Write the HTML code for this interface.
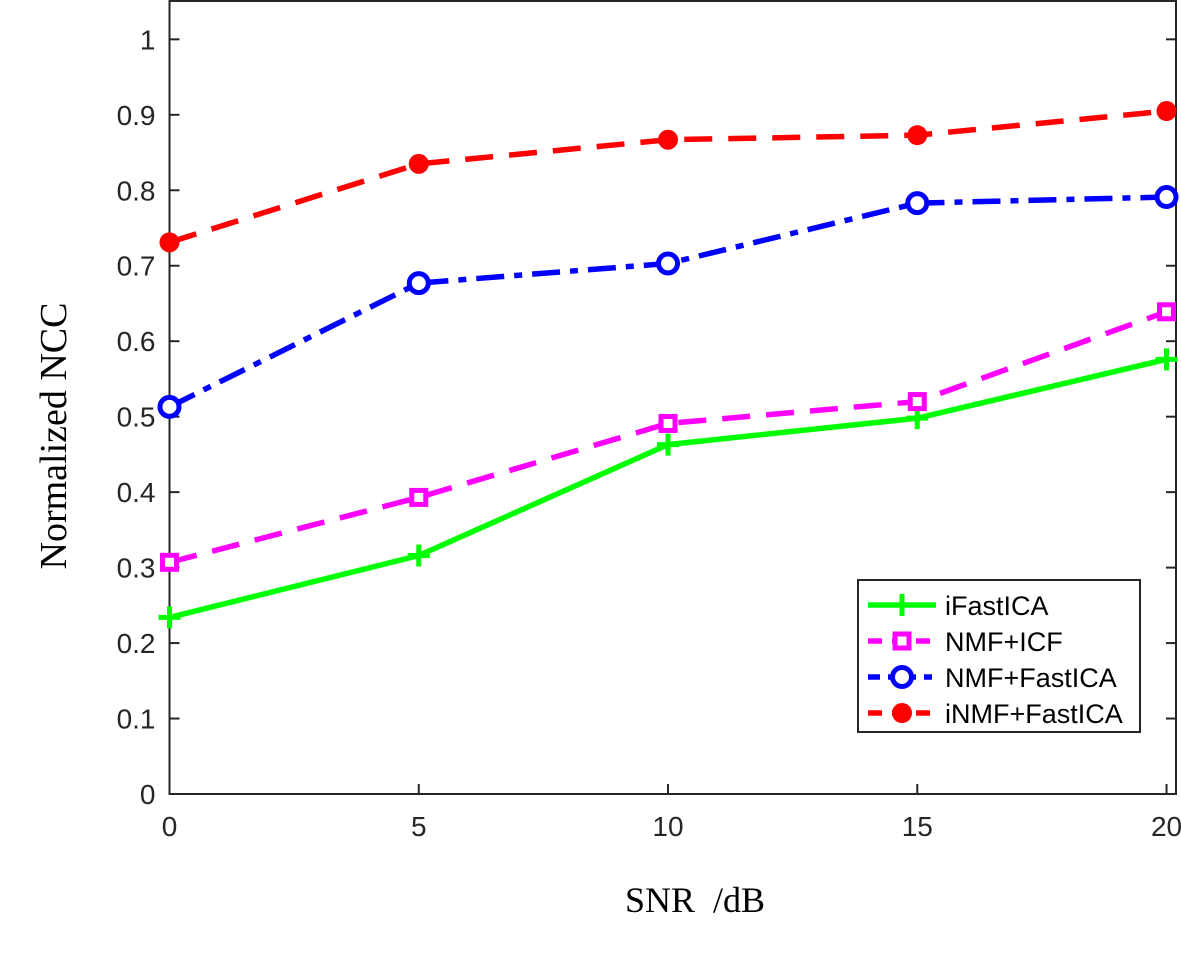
<!DOCTYPE html>
<html><head><meta charset="utf-8"><style>
html,body{margin:0;padding:0;background:#fff;}
svg text{font-family:"Liberation Sans",Arial,sans-serif;}
</style></head><body>
<svg id="chart" width="1181" height="948" viewBox="0 0 1181 948" xmlns="http://www.w3.org/2000/svg">
<rect x="0" y="0" width="1181" height="948" fill="#fff"/>
<g id="plot"></g>
<text x="695" y="912" text-anchor="middle" font-size="36" style="font-family:'Liberation Serif',serif;white-space:pre" xml:space="preserve">SNR  /dB</text>
<text transform="translate(66,436) rotate(-90)" text-anchor="middle" font-size="38" style="font-family:'Liberation Serif',serif">Normalized NCC</text>
</svg>
<script>
const categories=[0,5,10,15,20];
const xTicks=[0,5,10,15,20];
const yTicks=[0,0.1,0.2,0.3,0.4,0.5,0.6,0.7,0.8,0.9,1];
const yTickLabels=["0","0.1","0.2","0.3","0.4","0.5","0.6","0.7","0.8","0.9","1"];
const seriesNames=["iFastICA","NMF+ICF","NMF+FastICA","iNMF+FastICA"];
const iFastICA=[0.234,0.316,0.463,0.498,0.576];
const nmfIcf=[0.307,0.393,0.491,0.520,0.639];
const nmfFastICA=[0.513,0.677,0.703,0.783,0.791];
const inmfFastICA=[0.731,0.835,0.867,0.873,0.905];

const NS="http://www.w3.org/2000/svg";
const L=169.5,R=1176,T=1,B=794;
const X0=0,X1=20.19,Y0=0,Y1=1.0508;
const xs=v=>L+(v-X0)/(X1-X0)*(R-L);
const ys=v=>B-(v-Y0)/(Y1-Y0)*(B-T);
const g=document.getElementById('plot');
function mk(tag,attrs,parent){const e=document.createElementNS(NS,tag);for(const k in attrs)e.setAttribute(k,attrs[k]);(parent||g).appendChild(e);return e;}

const box=mk('rect',{x:L,y:T,width:R-L,height:B-T,fill:'none',stroke:'#262626','stroke-width':2});


xTicks.forEach(t=>{
  const x=xs(t);
  const tk=mk('line',{x1:x,y1:B,x2:x,y2:B-10,stroke:'#262626','stroke-width':2});
  
  
  const tx=mk('text',{x:x,y:B+42,'text-anchor':'middle','font-size':28,fill:'#262626'});
  tx.textContent=String(t);
  
  
});
yTicks.forEach((t,i)=>{
  const y=ys(t);
  const tk=mk('line',{x1:L,y1:y,x2:L+10,y2:y,stroke:'#262626','stroke-width':2});
  
  
  const tk2=mk('line',{x1:R,y1:y,x2:R-10,y2:y,stroke:'#262626','stroke-width':2});
  
  
  const tx=mk('text',{x:L-14,y:y+10,'text-anchor':'end','font-size':28,fill:'#262626'});
  tx.textContent=yTickLabels[i];
  
  
});

const styles=[
 {data:iFastICA,color:'#00ff00',dash:'',ldash:'',marker:'plus'},
 {data:nmfIcf,color:'#ff00ff',dash:'28,16',ldash:'14,10',marker:'square'},
 {data:nmfFastICA,color:'#0000ff',dash:'28,10,8,10',ldash:'12,8,8,8',marker:'circle'},
 {data:inmfFastICA,color:'#ff0000',dash:'28,16',ldash:'14,10',marker:'dot'}
];
function marker(type,x,y,color,parent){
  let m;
  if(type==='plus'){
    m=mk('path',{d:`M${x-11},${y}H${x+11}M${x},${y-11}V${y+11}`,stroke:color,'stroke-width':5,fill:'none'},parent);
  }else if(type==='square'){
    m=mk('rect',{x:x-7,y:y-7,width:14,height:14,stroke:color,'stroke-width':5,fill:'#fff'},parent);
  }else if(type==='circle'){
    m=mk('circle',{cx:x,cy:y,r:9.5,stroke:color,'stroke-width':5,fill:'#fff'},parent);
  }else{
    m=mk('circle',{cx:x,cy:y,r:10,fill:color},parent);
  }
  return m;
}
styles.forEach((s,si)=>{
  const sg=mk('g',{});
  
  
  const pts=s.data.map((v,i)=>xs(categories[i])+','+ys(v)).join(' ');
  const pl=mk('polyline',{points:pts,fill:'none',stroke:s.color,'stroke-width':5.5,'stroke-dasharray':s.dash},sg);
  
  
  s.data.forEach((v,i)=>{
    const m=marker(s.marker,xs(categories[i]),ys(v),s.color,sg);
    
    
  });
});

const lg=mk('g',{});


const lb=mk('rect',{x:858,y:580,width:282,height:152,fill:'#fff',stroke:'#262626','stroke-width':2},lg);


styles.forEach((s,i)=>{
  const y=605+i*36;
  const eg=mk('g',{},lg);
  
  
  mk('line',{x1:868,y1:y,x2:936,y2:y,stroke:s.color,'stroke-width':5.5,'stroke-dasharray':s.ldash},eg);
  marker(s.marker,902,y,s.color,eg);
  const t=mk('text',{x:945,y:y+10,'font-size':27,fill:'#000'},eg);
  t.textContent=seriesNames[i];
});
</script>
</body></html>
